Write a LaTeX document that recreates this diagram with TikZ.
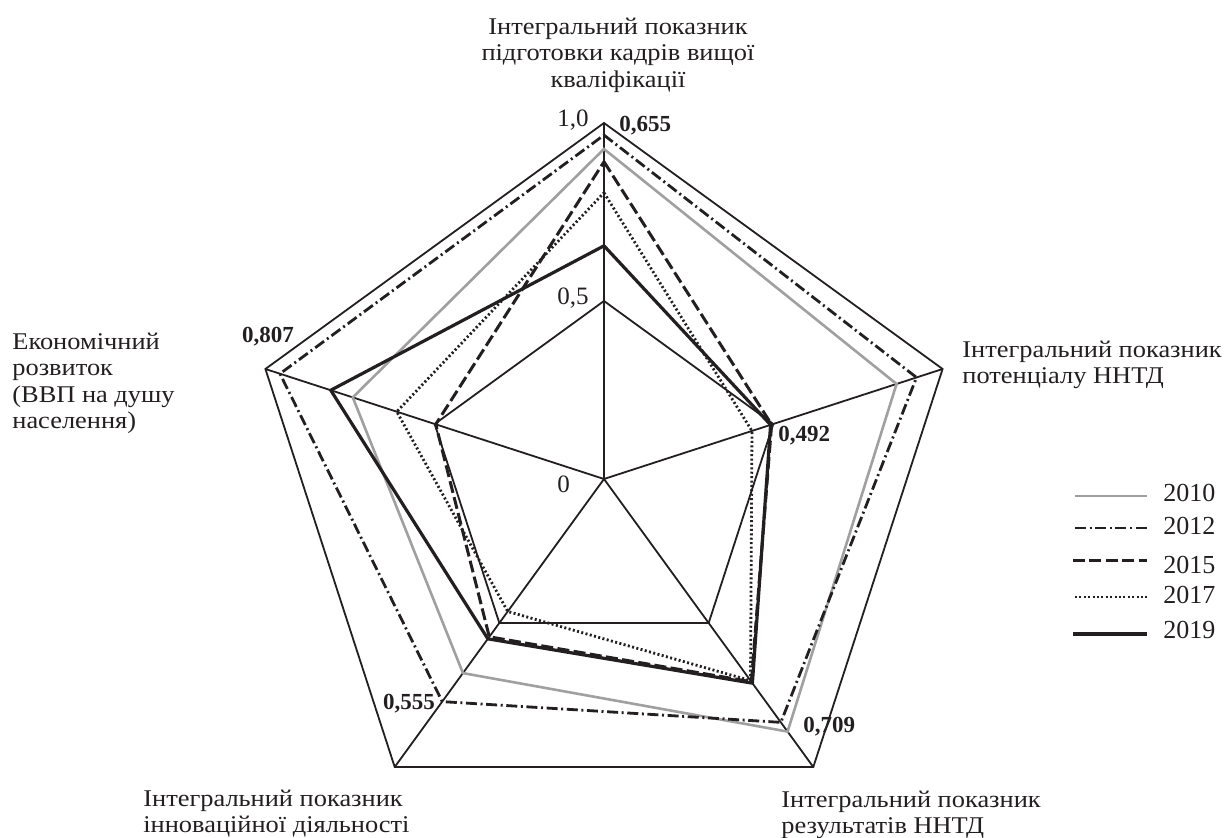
\documentclass[tikz,border=0pt]{standalone}
\usepackage{fontspec}
\setmainfont{Liberation Serif}
\newfontfamily\titlefont[FakeStretch=1.1]{Liberation Serif}
\usetikzlibrary{calc}
\definecolor{ink}{RGB}{35,31,32}
\definecolor{lightgrey}{RGB}{160,160,160}

\begin{document}
\begin{tikzpicture}[x=0.5pt,y=-0.5pt,
  grid/.style={line width=0.9pt, draw=ink, line join=miter},
  s2010/.style={line width=1.3pt, draw=lightgrey},
  s2012/.style={line width=1.4pt, draw=ink, dash pattern=on 5.5pt off 1.8pt on 1pt off 1.8pt},
  s2015/.style={line width=1.5pt, draw=ink, dash pattern=on 6pt off 2.2pt},
  s2017/.style={line width=1.4pt, draw=ink, dash pattern=on 1pt off 1.2pt},
  s2019/.style={line width=1.6pt, draw=ink},
  axislabel/.style={font=\titlefont\fontsize{12}{13.25}\selectfont, text=ink, inner sep=0pt},
  scalelabel/.style={font=\fontsize{12.5}{13}\selectfont, text=ink, inner sep=0pt, anchor=base west},
  valuelabel/.style={font=\fontsize{11.5}{13}\selectfont\bfseries, text=ink, inner sep=0pt, anchor=base west},
  legtext/.style={font=\fontsize{13}{15}\selectfont, text=ink, inner sep=0pt, anchor=base west}
]
\useasboundingbox (0,0) rectangle (1226,838);

% centre and outer vertices of the pentagonal grid (value 1.0)
\coordinate (O)  at (604,479);
\coordinate (A1) at (604,123);
\coordinate (A2) at (942.6,369);
\coordinate (A3) at (813.3,767);
\coordinate (A4) at (394.7,767);
\coordinate (A5) at (265.4,369);
\foreach \i in {1,...,5} \coordinate (H\i) at ($(O)!0.5!(A\i)$);

% grid: outer ring, 0.5 ring, spokes
\draw[grid] (A1) -- (A2) -- (A3) -- (A4) -- (A5) -- cycle;
\draw[grid] (H1) -- (H2) -- (H3) -- (H4) -- (H5) -- cycle;
\foreach \i in {1,...,5} \draw[grid] (O) -- (A\i);

% data points per year
\foreach \yr/\a/\b/\c/\d/\e in {
  2010/0.927/0.864/0.877/0.674/0.742,
  2012/0.966/0.923/0.845/0.773/0.957,
  2015/0.891/0.495/0.704/0.548/0.497,
  2017/0.804/0.437/0.700/0.460/0.612,
  2019/0.655/0.492/0.709/0.555/0.807}{
  \coordinate (p\yr-1) at ($(O)!\a!(A1)$);
  \coordinate (p\yr-2) at ($(O)!\b!(A2)$);
  \coordinate (p\yr-3) at ($(O)!\c!(A3)$);
  \coordinate (p\yr-4) at ($(O)!\d!(A4)$);
  \coordinate (p\yr-5) at ($(O)!\e!(A5)$);
}
\draw[s2010] (p2010-1) -- (p2010-2) -- (p2010-3) -- (p2010-4) -- (p2010-5) -- cycle;
\draw[s2012] (p2012-1) -- (p2012-2) -- (p2012-3) -- (p2012-4) -- (p2012-5) -- cycle;
\draw[s2015] (p2015-1) -- (p2015-2) -- (p2015-3) -- (p2015-4) -- (p2015-5) -- cycle;
\draw[s2017] (p2017-1) -- (p2017-2) -- (p2017-3) -- (p2017-4) -- (p2017-5) -- cycle;
\draw[s2019] (p2019-1) -- (p2019-2) -- (p2019-3) -- (p2019-4) -- (p2019-5) -- cycle;

% scale labels
\node[scalelabel] (sc10) at (557,127) {1,0};
\node[scalelabel] (sc05) at (557,305) {0,5};
\node[scalelabel] (sc00) at (557,493) {0};

% values of 2019
\node[valuelabel] (v1) at (619,131.5) {0,655};
\node[valuelabel] (v2) at (778,442) {0,492};
\node[valuelabel] (v3) at (803,733) {0,709};
\node[valuelabel] (v4) at (382.7,710) {0,555};
\node[valuelabel] (v5) at (241.7,342.5) {0,807};

% axis titles
\node[axislabel, align=center, anchor=north] (t1) at (618,17.5)
  {Інтегральний показник\\підготовки кадрів вищої\\кваліфікації};
\node[axislabel, align=left, anchor=north west] (t2) at (962,340.5)
  {Інтегральний показник\\потенціалу ННТД};
\node[axislabel, align=left, anchor=north west] (t3) at (781,790.5)
  {Інтегральний показник\\результатів ННТД};
\node[axislabel, align=left, anchor=north west] (t4) at (143,789.5)
  {Інтегральний показник\\інноваційної діяльності};
\node[axislabel, align=left, anchor=north west] (t5) at (12,332.5)
  {Економічний\\розвиток\\(ВВП на душу\\населення)};

% legend
\foreach \yr/\yy/\x in {2010/496/1075, 2012/528/1075, 2015/561/1073, 2017/597/1075, 2019/634/1073}{
  \coordinate (l\yr a) at (\x,\yy);
  \coordinate (l\yr b) at (1147,\yy);
}
\draw[s2010] (l2010a) -- (l2010b);
\draw[s2012] (l2012a) -- (l2012b);
\draw[s2015] (l2015a) -- (l2015b);
\draw[s2017] (l2017a) -- (l2017b);
\draw[s2019] (l2019a) -- (l2019b);
\node[legtext] (g2010) at (1163,502) {2010};
\node[legtext] (g2012) at (1163,535) {2012};
\node[legtext] (g2015) at (1163,574) {2015};
\node[legtext] (g2017) at (1163,604) {2017};
\node[legtext] (g2019) at (1163,638.5) {2019};
\end{tikzpicture}
\end{document}
